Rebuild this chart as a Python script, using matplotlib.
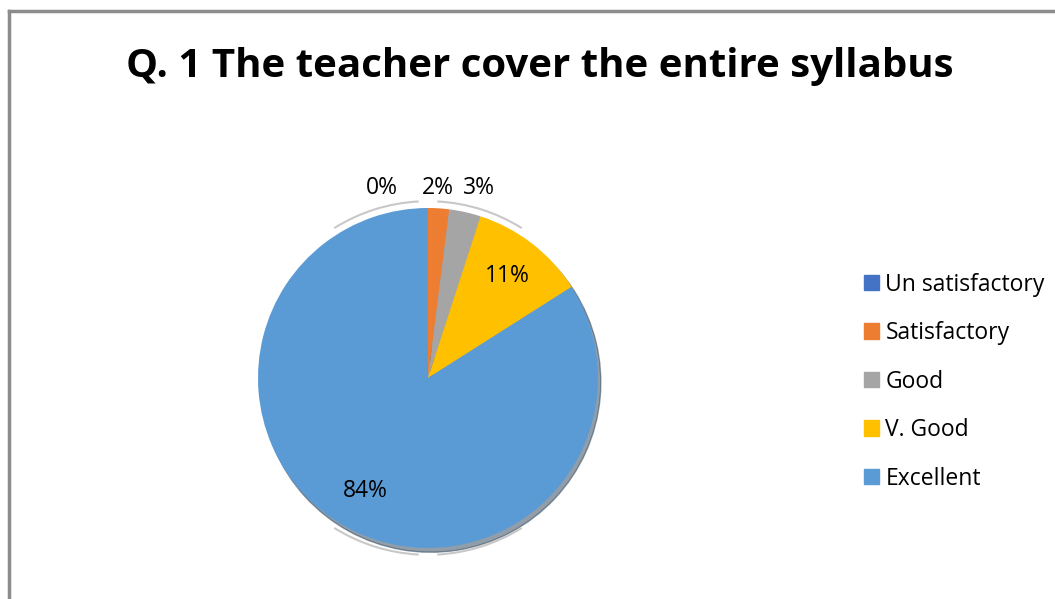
import matplotlib.pyplot as plt
from matplotlib.patches import Arc
from matplotlib.lines import Line2D
import numpy as np

###############################################################################

plt.rcParams.update({
    "font.family": ["Open Sans", "DejaVu Sans"],
    "font.size": 16,
})

TITLE = "Q. 1 The teacher cover the entire syllabus"
categories = ["Un satisfactory", "Satisfactory", "Good", "V. Good", "Excellent"]
percent = [0, 2, 3, 11, 84]
colors = ["#4472C4", "#ED7D31", "#A5A5A5", "#FFC000", "#5B9BD5"]

###############################################################################

W, H = 1055, 599
fig = plt.figure(figsize=(W / 100, H / 100), dpi=100)

# frame (only top and left visible in the crop)
fig.add_artist(Line2D([9 / W, 9 / W], [0, 1 - 11 / H], color="#8C8C8C",
                      linewidth=2.5, transform=fig.transFigure))
fig.add_artist(Line2D([9 / W, 1], [1 - 11 / H, 1 - 11 / H], color="#8C8C8C",
                      linewidth=2.5, transform=fig.transFigure))

fig.text(540 / W, 1 - 67 / H, TITLE, ha="center", va="center",
         fontsize=29, fontweight="bold")

# pie axes: centre (428, 378), radius 170 px
cx, cy, r, half = 428, 378, 170, 210
ax = fig.add_axes([(cx - half) / W, (H - cy - half) / H,
                   2 * half / W, 2 * half / H])

wedges, texts, autotexts = ax.pie(
    percent, colors=colors, startangle=90, counterclock=False,
    autopct=lambda p: f"{p:.0f}%", pctdistance=0.76, radius=1.0,
    shadow={"ox": 0.012, "oy": -0.018, "shade": 0.6},
    textprops={"fontsize": 16.5}, frame=True)
lim = half / r
ax.set_xlim(-lim, lim)
ax.set_ylim(-lim, lim)
ax.set_aspect("equal")
ax.axis("off")

# small slices: labels outside, spread sideways as Excel does
spread = {0: -0.27, 1: 0.06, 2: 0.30}
for i, t in enumerate(autotexts):
    if percent[i] < 5:
        t.set_position((spread[i], 1.12))

# faint highlight arcs above and below the pie
for t1, t2 in [(58, 87), (93, 122), (238, 267), (273, 302)]:
    ax.add_patch(Arc((0, 0), 2.08, 2.08, theta1=t1, theta2=t2,
                     color="#C8C8C8", linewidth=1.5))

handles = [plt.Rectangle((0, 0), 1, 1, color=c) for c in colors]
fig.legend(handles, categories, loc="upper left",
           bbox_to_anchor=(843 / W, 1 - 252 / H), frameon=False,
           fontsize=16.5, handlelength=0.65, handleheight=0.65,
           handletextpad=0.3, labelspacing=1.07)

fig.savefig("out.png", dpi=100)
